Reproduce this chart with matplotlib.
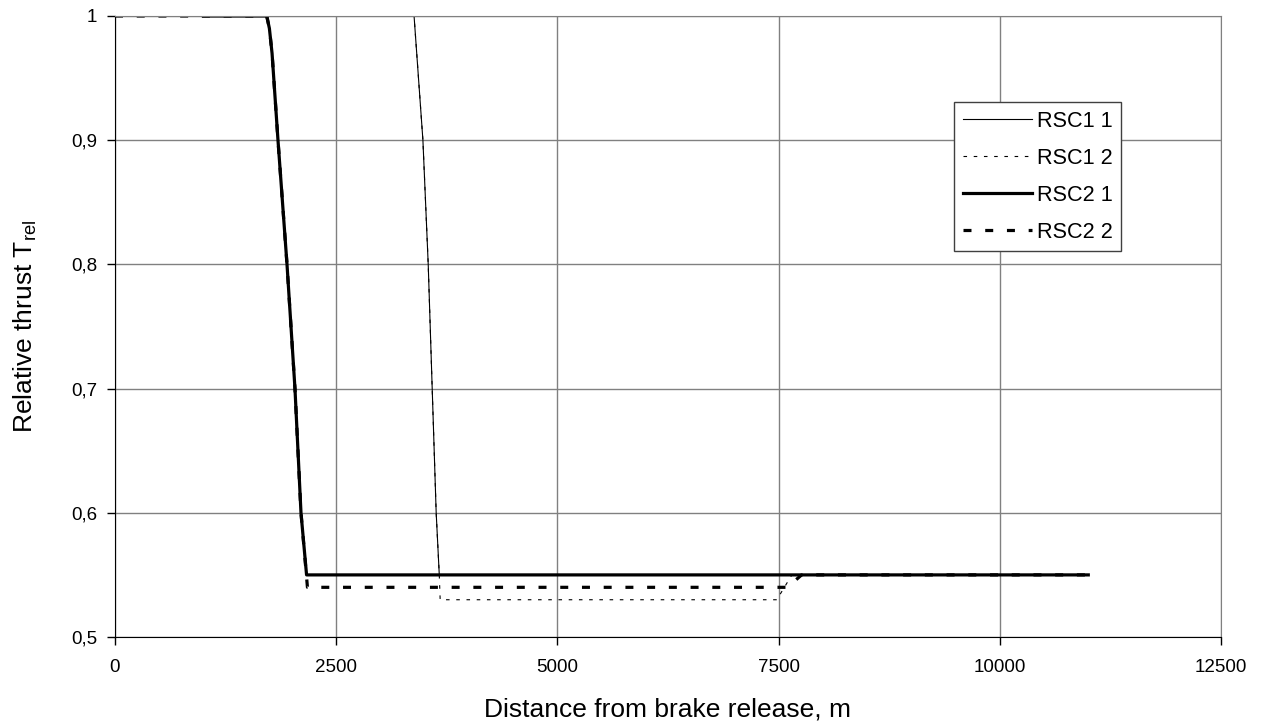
import matplotlib.pyplot as plt
from matplotlib.ticker import FuncFormatter

plt.rcParams['font.family'] = ['Liberation Sans', 'DejaVu Sans']

# Distance from brake release (m) and relative thrust for each run
rsc1_1_x = [3380, 3420, 3480, 3540, 3585, 3630, 3665, 11000]
rsc1_1_y = [1.0, 0.96, 0.9, 0.8, 0.7, 0.6, 0.55, 0.55]

rsc1_2_x = [0, 3380, 3420, 3480, 3540, 3585, 3630, 3665, 3675, 7480, 7650, 11000]
rsc1_2_y = [1.0, 1.0, 0.96, 0.9, 0.8, 0.7, 0.6, 0.55, 0.53, 0.53, 0.55, 0.55]

rsc2_1_x = [1000, 1715, 1745, 1775, 1842, 1944, 2034, 2102, 2165, 11000]
rsc2_1_y = [1.0, 1.0, 0.99, 0.97, 0.9, 0.8, 0.7, 0.6, 0.55, 0.55]

rsc2_2_x = [0, 1715, 1745, 1775, 1842, 1944, 2034, 2102, 2175, 7600, 7760, 11000]
rsc2_2_y = [1.0, 1.0, 0.99, 0.97, 0.9, 0.8, 0.7, 0.6, 0.54, 0.54, 0.55, 0.55]

x_ticks = [0, 2500, 5000, 7500, 10000, 12500]
y_ticks = [0.5, 0.6, 0.7, 0.8, 0.9, 1.0]

W, H = 1261, 726
fig = plt.figure(figsize=(W / 100, H / 100), dpi=100)
ax = fig.add_axes([115 / W, 1 - 637 / H, 1106 / W, 621 / H])

ax.plot(rsc1_1_x, rsc1_1_y, color='black', lw=0.8, label='RSC1 1')
ax.plot(rsc1_2_x, rsc1_2_y, color='black', lw=0.8, dashes=(3.2, 6.0), label='RSC1 2')
ax.plot(rsc2_1_x, rsc2_1_y, color='black', lw=2.3, label='RSC2 1')
ax.plot(rsc2_2_x, rsc2_2_y, color='black', lw=2.3, dashes=(2.5, 4.3), label='RSC2 2')

ax.set_xlim(0, 12500)
ax.set_ylim(0.5, 1.0)
ax.set_xticks(x_ticks)
ax.set_yticks(y_ticks)
ax.xaxis.set_major_formatter(FuncFormatter(lambda v, p: f'{v:.0f}'))
ax.yaxis.set_major_formatter(
    FuncFormatter(lambda v, p: ('%g' % round(v, 1)).replace('.', ',')))
ax.tick_params(direction='out', length=6, width=1, labelsize=13.5)
ax.tick_params(axis='x', pad=10)
ax.tick_params(axis='y', pad=7)
ax.grid(True, color='#808080', lw=1)
ax.set_axisbelow(True)

for side in ['top', 'right']:
    ax.spines[side].set_color('#808080')
for side in ['left', 'bottom']:
    ax.spines[side].set_color('black')

# axis titles
fig.text(668 / W, 1 - 716 / H, 'Distance from brake release, m',
         fontsize=19, ha='center', va='baseline')
fig.text(33 / W, 1 - 326 / H, r'Relative thrust T$_{\mathregular{rel}}$',
         fontsize=19, rotation=90, rotation_mode='anchor',
         ha='center', va='baseline')

leg = ax.legend(loc='upper left', bbox_to_anchor=(0.7586, 0.8615),
                borderaxespad=0, fontsize=15.6, handlelength=3.18,
                handletextpad=0.23, labelspacing=0.74, borderpad=0.4,
                fancybox=False, edgecolor='#404040', framealpha=1)
leg.get_frame().set_linewidth(1)

fig.savefig('out.png', dpi=100)
